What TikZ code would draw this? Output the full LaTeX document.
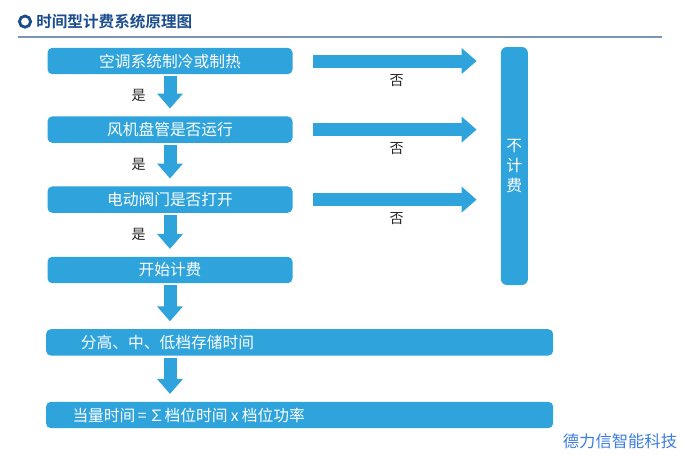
\documentclass[tikz,border=0pt]{standalone}
\usepackage{fontspec}
\setmainfont{Noto Sans CJK SC}
\newfontfamily\cjkbold{Noto Sans CJK SC Bold}
\usetikzlibrary{positioning, calc}
\usetikzlibrary{arrows.meta}

\definecolor{boxblue}{RGB}{46,163,220}
\definecolor{titleblue}{RGB}{27,77,142}
\definecolor{rulegray}{RGB}{120,150,180}
\definecolor{markblue}{RGB}{60,125,225}

\tikzset{
  stepbox/.style={fill=boxblue, rounded corners=0.12cm, text=white, inner sep=0pt,
    minimum width=6.125cm, minimum height=0.66cm, font=\fontsize{11.2}{13}\selectfont},
  widebox/.style={stepbox, minimum width=12.675cm, align=left},
  fatarrow/.style={draw=boxblue, line width=0.325cm,
    -{Triangle[length=0.375cm, width=0.625cm]}, shorten <=0.05cm, shorten >=0.19cm},
  sidearrow/.style={fatarrow, shorten <=0.5cm, shorten >=0.6cm},
  yes/.style={text=black!85, font=\fontsize{10}{12}\selectfont},
}

\begin{document}
\begin{tikzpicture}
\useasboundingbox (0,0) rectangle (17.1,-11.425);

% title
\draw[titleblue, line width=2pt] (0.625,-0.54) circle (0.14);
\node[anchor=west, text=titleblue, font=\cjkbold\fontsize{11.1}{13}\selectfont, inner sep=0pt] (title) at (0.9,-0.54) {时间型计费系统原理图};
\draw[rulegray, line width=1.2pt] (0.45,-0.93) -- (16.55,-0.93);

% left column
\node[stepbox] (cool) at (4.25,-1.525) {空调系统制冷或制热};
\node[stepbox] (fan) at (4.25,-3.24) {风机盘管是否运行};
\node[stepbox] (valve) at (4.25,-4.99) {电动阀门是否打开};
\node[stepbox] (start) at (4.25,-6.75) {开始计费};
\node[widebox, inner xsep=0.87cm, text width=10.935cm] (store) at (7.49,-8.56) {分高、中、低档存储时间};
\node[widebox, inner xsep=0.66cm, text width=11.355cm] (equiv) at (7.49,-10.375) {当量时间\hspace{0.15em}=\hspace{0.15em}∑档位时间\hspace{0.2em}x\hspace{0.2em}档位功率};

% right bar
\node[fill=boxblue, rounded corners=0.15cm, minimum width=0.675cm, minimum height=5.95cm,
  text=white, align=center, font=\fontsize{11.3}{14}\selectfont] (nobill) at (12.86,-4.15) {不\\计\\费};

% yes arrows
\draw[fatarrow] (cool.south) -- node[yes, left=0.33cm] {是} (fan.north);
\draw[fatarrow] (fan.south) -- node[yes, left=0.33cm] {是} (valve.north);
\draw[fatarrow] (valve.south) -- node[yes, left=0.33cm] {是} (start.north);
\draw[fatarrow] (start.south) -- (start.south |- store.north);
\draw[fatarrow] (store.south -| start.south) -- (start.south |- equiv.north);

% no arrows
\draw[sidearrow] (cool.east) -- node[yes, below=0.05cm] {否} (cool.east -| nobill.west);
\draw[sidearrow] (fan.east) -- node[yes, below=0.05cm] {否} (fan.east -| nobill.west);
\draw[sidearrow] (valve.east) -- node[yes, below=0.05cm] {否} (valve.east -| nobill.west);

% mark
\node[text=markblue, font=\fontsize{11.6}{13}\selectfont, inner sep=0pt] (mark) at (15.5,-11.02) {德力信智能科技};
\end{tikzpicture}
\end{document}
